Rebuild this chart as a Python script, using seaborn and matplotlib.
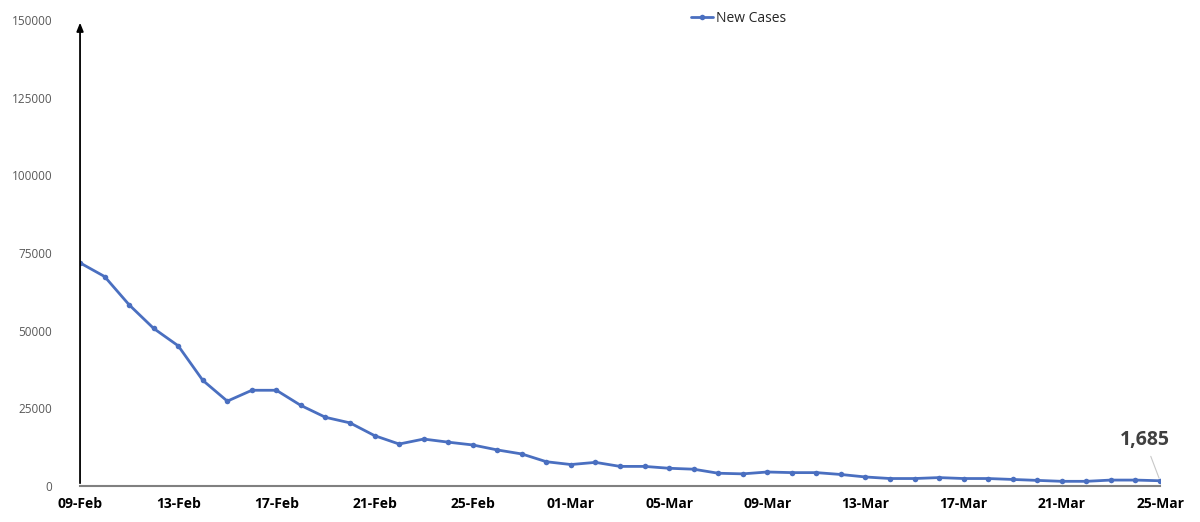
import pandas as pd
import matplotlib.pyplot as plt
import seaborn as sns

# daily new cases, 09-Feb to 25-Mar
dates = pd.date_range("2021-02-09", "2021-03-25", freq="D")
new_cases = [71800, 67400, 58300, 50700, 45100, 34000, 27300, 30800, 30800, 25900,
             22100, 20300, 16200, 13500, 15100, 14100, 13200, 11600, 10300, 7800,
             6900, 7600, 6300, 6300, 5700, 5400, 4100, 3900, 4500, 4300,
             4300, 3700, 2900, 2400, 2400, 2700, 2400, 2400, 2100, 1800,
             1500, 1500, 1900, 1900, 1685]
y_ticks = [0, 25000, 50000, 75000, 100000, 125000, 150000]

df = pd.DataFrame({"date": dates, "New Cases": new_cases})

sns.set_style("white")
plt.rcParams['font.family'] = ['Open Sans', 'DejaVu Sans']

fig = plt.figure(figsize=(12, 5.22), dpi=100)
ax = fig.add_axes([0.0667, 0.069, 0.9, 0.893])

blue = "#4a6fc0"
sns.lineplot(data=df, x="date", y="New Cases", ax=ax, color=blue, linewidth=2,
             marker="o", markersize=4, markeredgewidth=0, label="New Cases")

ax.set_xlim(dates[0], dates[-1])
ax.set_ylim(0, 150000)
ax.set_yticks(y_ticks)
ax.set_yticklabels([str(v) for v in y_ticks], color="#595959", fontsize=8.5)
tick_dates = dates[::4]
ax.set_xticks(tick_dates)
ax.set_xticklabels([d.strftime("%d-%b") for d in tick_dates], fontsize=10,
                   fontweight="bold", color="black")
ax.tick_params(axis="x", direction="out", length=5, color="#808080", pad=3)
ax.tick_params(axis="y", length=0, pad=20)
ax.set_xlabel("")
ax.set_ylabel("")

for s in ["top", "right", "left"]:
    ax.spines[s].set_visible(False)
ax.spines["bottom"].set_color("#808080")
ax.spines["bottom"].set_linewidth(1.5)

# y axis drawn as an arrow
ax.annotate("", xy=(0, 1.0), xytext=(0, 0), xycoords="axes fraction",
            arrowprops=dict(arrowstyle="-|>,head_length=0.5,head_width=0.2",
                            color="black", lw=1.3))

# last value label
ax.annotate(f"{new_cases[-1]:,}", xy=(dates[-1], new_cases[-1]),
            xytext=(-11, 29), textcoords="offset points", ha="center", va="center",
            fontsize=14, fontweight="bold", color="#404040",
            arrowprops=dict(arrowstyle="-", color="#c8c8c8", lw=0.8))

ax.legend(loc="upper center", bbox_to_anchor=(0.61, 1.045), frameon=False,
          fontsize=10, handlelength=1.6, handletextpad=0.2)

fig.savefig("out.png", dpi=100)
